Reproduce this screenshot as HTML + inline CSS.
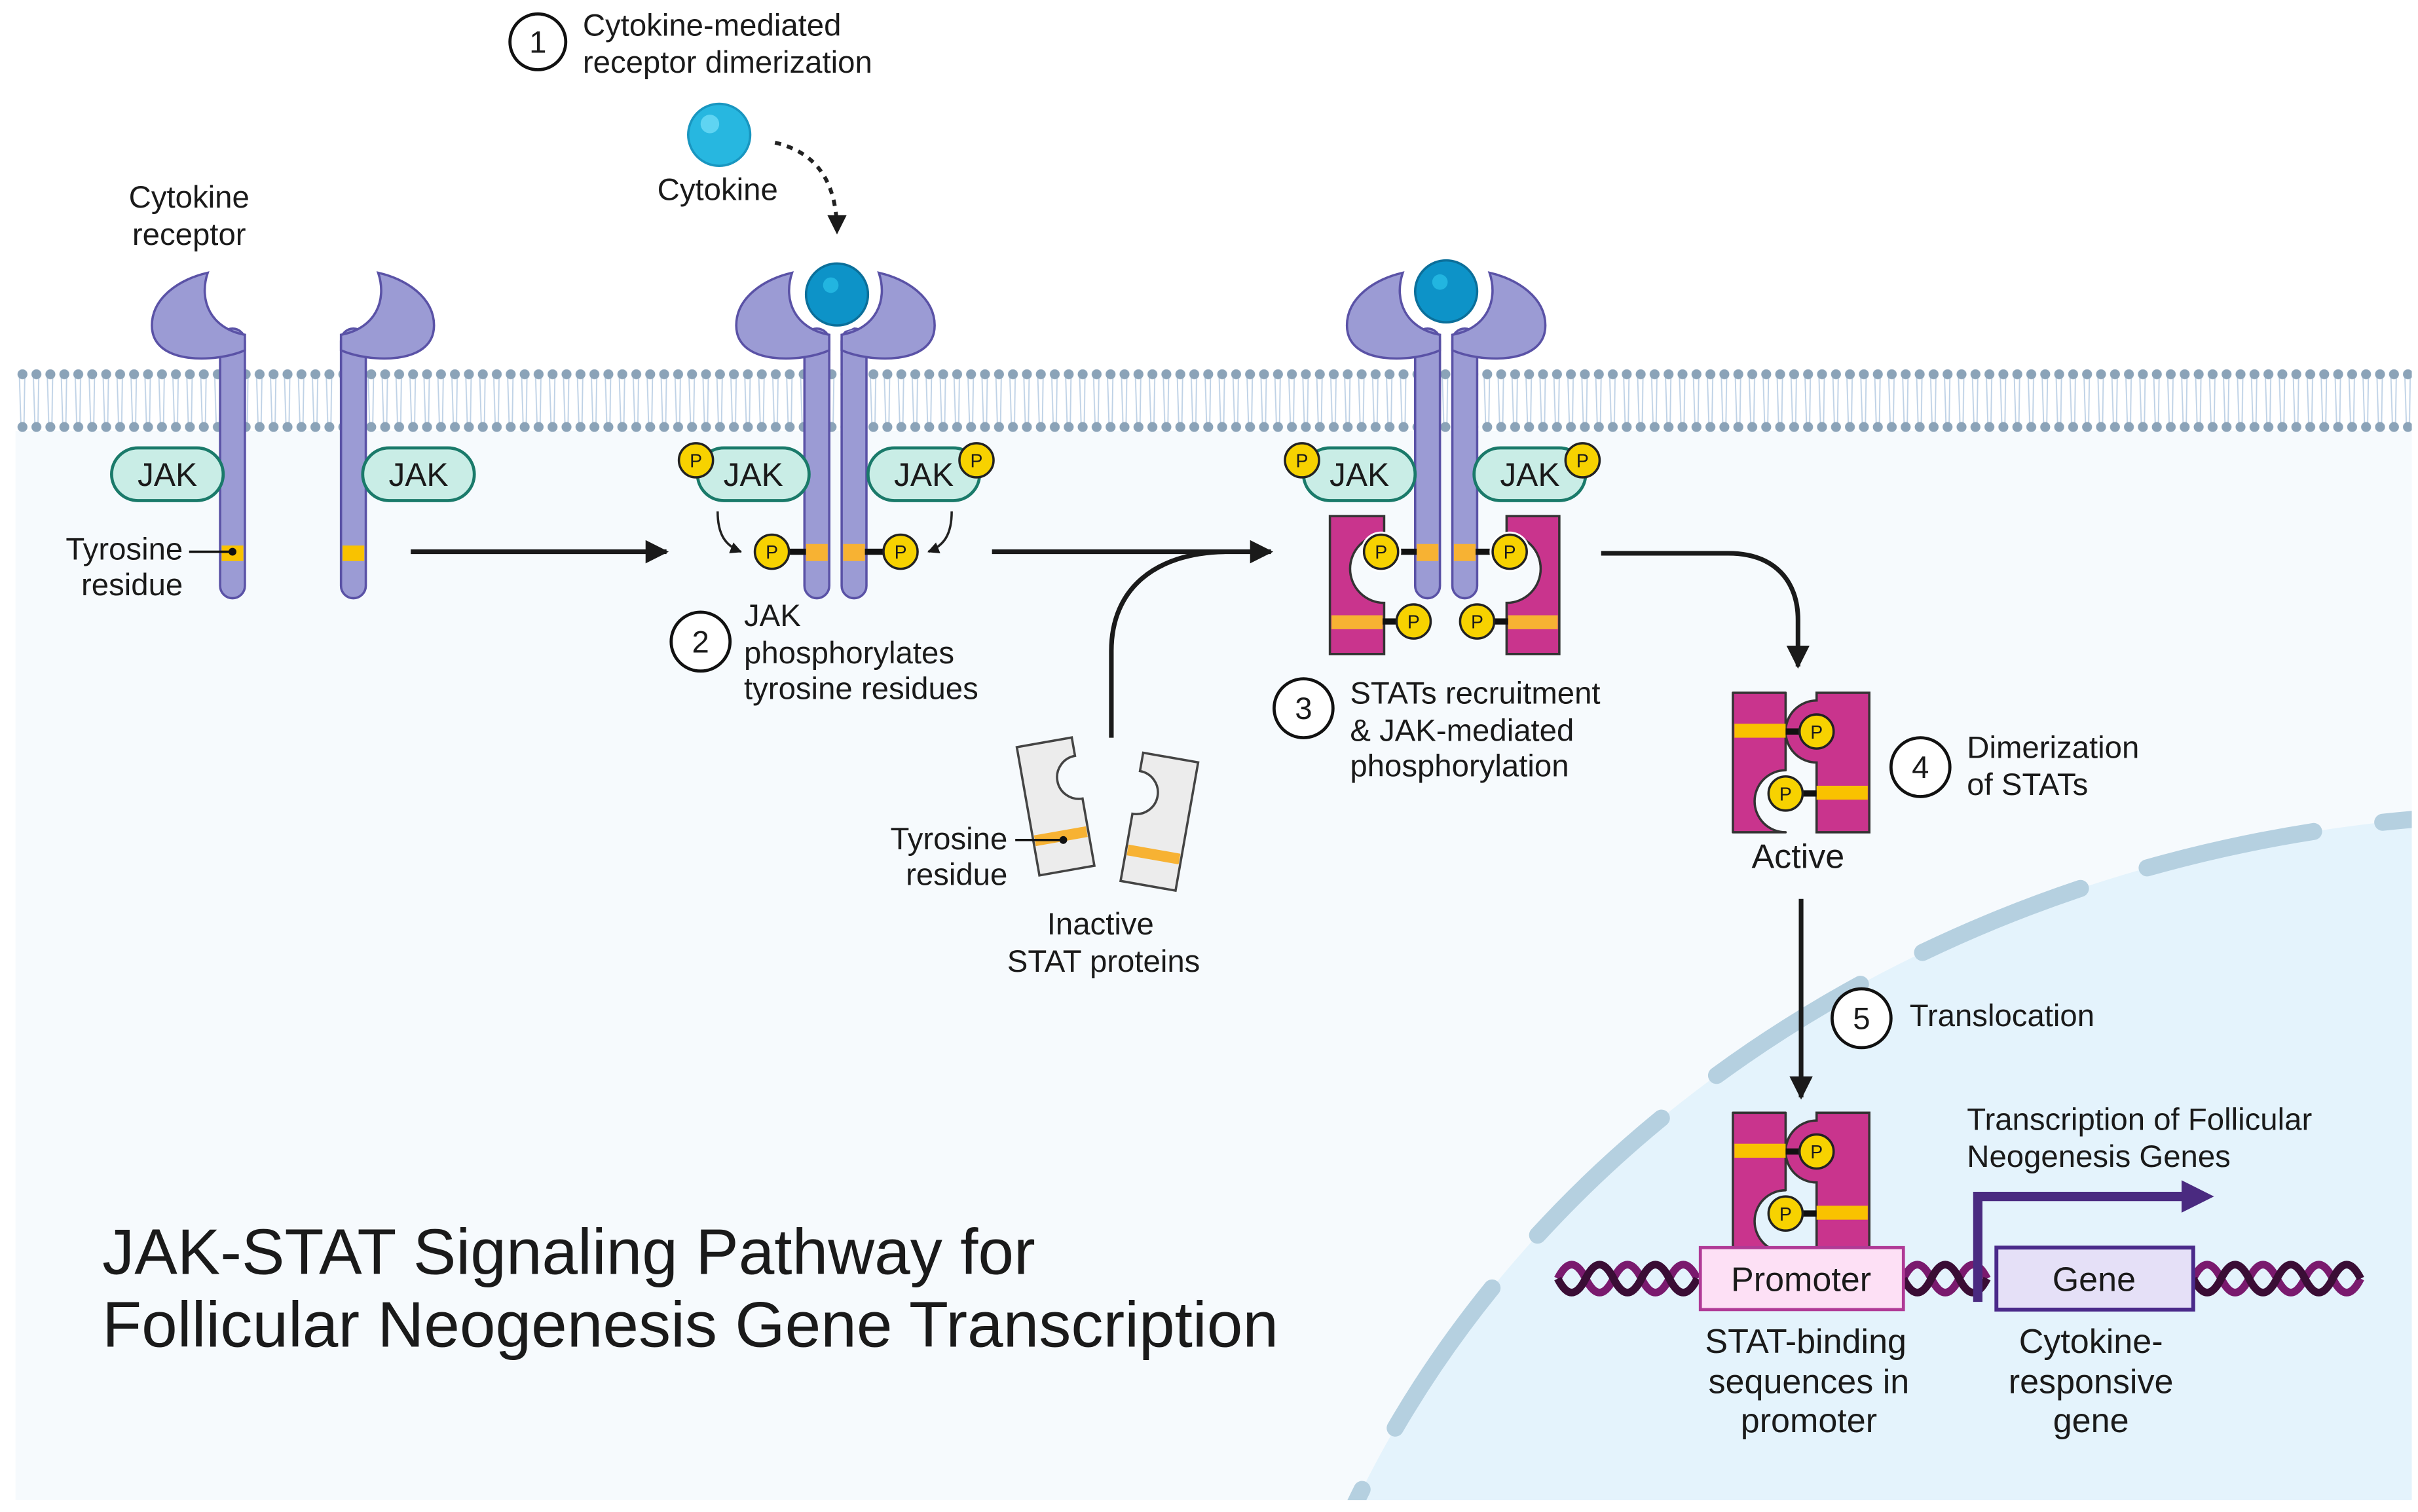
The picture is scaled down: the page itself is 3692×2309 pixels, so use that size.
<!DOCTYPE html>
<html><head><meta charset="utf-8"><style>
html,body{margin:0;padding:0;background:#fff;overflow:hidden;width:3692px;height:2309px}
svg{display:block}
text{font-family:"Liberation Sans",sans-serif;fill:#1a1a1a}
</style></head><body>
<svg width="3692" height="2309" viewBox="0 0 1560 975.6" preserveAspectRatio="none" xmlns="http://www.w3.org/2000/svg">
<defs>
<pattern id="mem" x="10" y="238" width="9" height="42" patternUnits="userSpaceOnUse">
<line x1="2.5" y1="4" x2="3.5" y2="36" stroke="#bfd2e6" stroke-width="0.8"/>
<line x1="6" y1="4" x2="5.5" y2="36" stroke="#bfd2e6" stroke-width="0.8"/>
<circle cx="4.5" cy="3.5" r="3.2" fill="#8ba3b8"/>
<circle cx="4.5" cy="37.5" r="3.2" fill="#8ba3b8"/>
</pattern>
<clipPath id="cell"><rect x="10" y="278" width="1546" height="690"/></clipPath>
<g id="recL">
<rect x="-8" y="212" width="16" height="174" rx="8" fill="#9b9bd4" stroke="#5a52a6" stroke-width="1.5"/>
<path d="M8,226 C-10,234 -52,236 -52,210 C-52,192 -34,180 -16,176 C-22,194 -14,212 8,216 Z" fill="#9b9bd4" stroke="#5a52a6" stroke-width="1.5"/>
</g>
<g id="P"><circle r="11" fill="#f7d200" stroke="#222" stroke-width="1.5"/><text y="4.5" text-anchor="middle" font-size="12">P</text></g>
<g id="jak"><rect x="-36" y="-17" width="72" height="34" rx="17" fill="#c9ede6" stroke="#1a7a6a" stroke-width="2"/><text y="7.5" text-anchor="middle" font-size="21">JAK</text></g>
<marker id="ah" viewBox="0 0 10 10" refX="9" refY="5" markerWidth="5" markerHeight="5" orient="auto"><path d="M0,0 L10,5 L0,10 Z" fill="#1a1a1a"/></marker>
<marker id="ahp" viewBox="0 0 10 10" refX="6" refY="5" markerWidth="3.5" markerHeight="3.5" orient="auto"><path d="M0,0 L10,5 L0,10 Z" fill="#4a2a80"/></marker>
<g id="dimer">
<path d="M0,0 h34 v50 a20,20 0 0 0 0,40 h-34 Z" fill="#c9348d" stroke="#333" stroke-width="1.5" stroke-linejoin="round"/>
<path d="M88,0 h-34 v5 a20,20 0 0 0 0,40 v45 h34 Z" fill="#c9348d" stroke="#333" stroke-width="1.5"/>
<rect x="1" y="20" width="33" height="9" fill="#f9c200"/>
<rect x="54" y="60" width="33" height="9" fill="#f9c200"/>
<line x1="34" y1="25" x2="55" y2="25" stroke="#111" stroke-width="4"/>
<line x1="34" y1="65" x2="54" y2="65" stroke="#111" stroke-width="4"/>
<use href="#P" x="54" y="25"/><use href="#P" x="34" y="65"/>
</g>
</defs>
<rect width="1560" height="975.6" fill="#fff"/>
<rect x="10" y="278" width="1546" height="690" fill="#f6fafd"/>
<g clip-path="url(#cell)">
<ellipse cx="1640" cy="1250" rx="830" ry="725" fill="#e4f3fc"/>
<ellipse cx="1640" cy="1250" rx="830" ry="725" fill="none" stroke="#b5d0e0" stroke-width="11" stroke-linecap="round" stroke-dasharray="110 45"/>
</g>
<rect x="10" y="238" width="1546" height="42" fill="url(#mem)"/>
<!-- step 1 -->
<circle cx="347" cy="27" r="18" fill="#fff" stroke="#111" stroke-width="2"/><text x="347" y="34" text-anchor="middle" font-size="20">1</text>
<text x="376" y="23" font-size="20">Cytokine-mediated</text>
<text x="376" y="47" font-size="20">receptor dimerization</text>
<circle cx="464" cy="87" r="20" fill="#27b7e0" stroke="#1996c0" stroke-width="1.5"/>
<circle cx="458" cy="80" r="6" fill="#5fd4f2"/>
<text x="463" y="129" text-anchor="middle" font-size="20">Cytokine</text>
<path d="M500,92 C525,98 540,115 540,150" fill="none" stroke="#222" stroke-width="2.5" stroke-dasharray="4 4" marker-end="url(#ah)"/>
<text x="122" y="134" text-anchor="middle" font-size="20">Cytokine</text>
<text x="122" y="158" text-anchor="middle" font-size="20">receptor</text>
<use href="#recL" x="150" y="0"/>
<use href="#recL" transform="translate(228,0) scale(-1,1)"/>
<rect x="143" y="352" width="14" height="10" fill="#f9c200"/>
<rect x="221" y="352" width="14" height="10" fill="#f9c200"/>
<line x1="122" y1="356" x2="150" y2="356" stroke="#111" stroke-width="1.5"/><circle cx="150" cy="356" r="2.5" fill="#111"/>
<text x="118" y="361" text-anchor="end" font-size="20">Tyrosine</text>
<text x="118" y="384" text-anchor="end" font-size="20">residue</text>
<use href="#jak" x="108" y="306"/><use href="#jak" x="270" y="306"/>
<line x1="265" y1="356" x2="430" y2="356" stroke="#1a1a1a" stroke-width="3" marker-end="url(#ah)"/>
<!-- stage 2 -->
<use href="#recL" x="527" y="0"/>
<use href="#recL" transform="translate(551,0) scale(-1,1)"/>
<circle cx="540" cy="190" r="24" fill="#fff"/>
<circle cx="540" cy="190" r="20" fill="#0d93c8" stroke="#0b6f9a" stroke-width="1.5"/>
<circle cx="536" cy="184" r="5" fill="#22b5e0"/>
<rect x="520" y="351" width="14" height="11" fill="#f7b233"/><rect x="544" y="351" width="14" height="11" fill="#f7b233"/>
<line x1="498" y1="356" x2="520" y2="356" stroke="#111" stroke-width="4"/><line x1="558" y1="356" x2="581" y2="356" stroke="#111" stroke-width="4"/>
<use href="#jak" x="486" y="306"/><use href="#jak" x="596" y="306"/>
<use href="#P" x="449" y="297"/><use href="#P" x="630" y="297"/>
<use href="#P" x="498" y="356"/><use href="#P" x="581" y="356"/>
<path d="M463,330 C463,345 468,352 478,356" fill="none" stroke="#222" stroke-width="1.5" marker-end="url(#ah)"/>
<path d="M614,330 C614,345 609,352 599,356" fill="none" stroke="#222" stroke-width="1.5" marker-end="url(#ah)"/>
<circle cx="452" cy="414" r="19" fill="#fff" stroke="#111" stroke-width="2"/><text x="452" y="421" text-anchor="middle" font-size="20">2</text>
<text x="480" y="404" font-size="20">JAK</text>
<text x="480" y="428" font-size="20">phosphorylates</text>
<text x="480" y="451" font-size="20">tyrosine residues</text>
<line x1="640" y1="356" x2="820" y2="356" stroke="#1a1a1a" stroke-width="3" marker-end="url(#ah)"/>
<path d="M717,476 L717,420 C717,380 745,357 790,356" fill="none" stroke="#1a1a1a" stroke-width="3"/>
<g transform="rotate(-10 683 520)">
<path d="M663,478 h36 v12 a14,14 0 0 0 0,28 v44 h-36 Z" fill="#ececec" stroke="#444" stroke-width="1.5"/>
<rect x="664" y="536" width="34" height="7" fill="#f7b233"/>
</g>
<g transform="rotate(10 747 530)">
<path d="M766,488 h-36 v12 a14,14 0 0 1 0,28 v44 h36 Z" fill="#ececec" stroke="#444" stroke-width="1.5"/>
<rect x="731" y="548" width="34" height="7" fill="#f7b233"/>
</g>
<line x1="655" y1="542" x2="686" y2="542" stroke="#111" stroke-width="1.5"/><circle cx="686" cy="542" r="2.5" fill="#111"/>
<text x="650" y="548" text-anchor="end" font-size="20">Tyrosine</text>
<text x="650" y="571" text-anchor="end" font-size="20">residue</text>
<text x="710" y="603" text-anchor="middle" font-size="20">Inactive</text>
<text x="712" y="627" text-anchor="middle" font-size="20">STAT proteins</text>
<!-- stage 3 -->
<path d="M858,333 h35 v12 a22,22 0 0 0 0,44 v33 h-35 Z" fill="#c9348d" stroke="#333" stroke-width="1.5"/>
<path d="M1006,333 h-34 v12 a22,22 0 0 1 0,44 v33 h34 Z" fill="#c9348d" stroke="#333" stroke-width="1.5"/>
<rect x="859" y="397" width="33" height="9" fill="#f7b233"/><rect x="973" y="397" width="32" height="9" fill="#f7b233"/>
<use href="#recL" x="921" y="0"/>
<use href="#recL" transform="translate(945,0) scale(-1,1)"/>
<circle cx="933" cy="188" r="24" fill="#fff"/>
<circle cx="933" cy="188" r="20" fill="#0d93c8" stroke="#0b6f9a" stroke-width="1.5"/>
<circle cx="929" cy="182" r="5" fill="#22b5e0"/>
<rect x="914" y="351" width="14" height="11" fill="#f7b233"/><rect x="938" y="351" width="14" height="11" fill="#f7b233"/>
<line x1="891" y1="356" x2="914" y2="356" stroke="#111" stroke-width="4"/><line x1="952" y1="356" x2="974" y2="356" stroke="#111" stroke-width="4"/>
<line x1="892" y1="401" x2="912" y2="401" stroke="#111" stroke-width="4"/><line x1="953" y1="401" x2="973" y2="401" stroke="#111" stroke-width="4"/>
<circle cx="891" cy="356" r="13" fill="#fff"/><circle cx="974" cy="356" r="13" fill="#fff"/>
<use href="#P" x="891" y="356"/><use href="#P" x="974" y="356"/>
<use href="#P" x="912" y="401"/><use href="#P" x="953" y="401"/>
<use href="#jak" x="877" y="306"/><use href="#jak" x="987" y="306"/>
<use href="#P" x="840" y="297"/><use href="#P" x="1021" y="297"/>
<circle cx="841" cy="457" r="19" fill="#fff" stroke="#111" stroke-width="2"/><text x="841" y="464" text-anchor="middle" font-size="20">3</text>
<text x="871" y="454" font-size="20">STATs recruitment</text>
<text x="871" y="478" font-size="20">&amp; JAK-mediated</text>
<text x="871" y="501" font-size="20">phosphorylation</text>
<path d="M1033,357 L1115,357 C1145,357 1160,375 1160,400 L1160,430" fill="none" stroke="#1a1a1a" stroke-width="3" marker-end="url(#ah)"/>
<use href="#dimer" x="1118" y="447"/>
<text x="1160" y="560" text-anchor="middle" font-size="22">Active</text>
<circle cx="1239" cy="495" r="19" fill="#fff" stroke="#111" stroke-width="2"/><text x="1239" y="502" text-anchor="middle" font-size="20">4</text>
<text x="1269" y="489" font-size="20">Dimerization</text>
<text x="1269" y="513" font-size="20">of STATs</text>
<line x1="1162" y1="580" x2="1162" y2="708" stroke="#1a1a1a" stroke-width="3" marker-end="url(#ah)"/>
<circle cx="1201" cy="657" r="19" fill="#fff" stroke="#111" stroke-width="2"/><text x="1201" y="664" text-anchor="middle" font-size="20">5</text>
<text x="1232" y="662" font-size="20">Translocation</text>
<g fill="none" stroke-width="5">
<path d="M1005,825 q9,-18 18,0 t18,0 t18,0 t18,0 t18,0 M1228,825 q9,-18 18,0 t18,0 t18,0 M1415,825 q9,-18 18,0 t18,0 t18,0 t18,0 t18,0 t18,0" stroke="#7a1a6e"/>
<path d="M1005,825 q9,18 18,0 t18,0 t18,0 t18,0 t18,0 M1228,825 q9,18 18,0 t18,0 t18,0 M1415,825 q9,18 18,0 t18,0 t18,0 t18,0 t18,0 t18,0" stroke="#3a0d35"/>
</g>
<use href="#dimer" x="1118" y="718"/>
<rect x="1097" y="805" width="131" height="40" fill="#fde0f5" stroke="#b03a96" stroke-width="2"/>
<text x="1162" y="833" text-anchor="middle" font-size="22">Promoter</text>
<rect x="1288" y="805" width="127" height="40" fill="#e5e0f7" stroke="#4a2a8a" stroke-width="2.5"/>
<text x="1351" y="833" text-anchor="middle" font-size="22">Gene</text>
<path d="M1276,840 L1276,772 L1420,772" fill="none" stroke="#4a2a80" stroke-width="6" marker-end="url(#ahp)"/>
<text x="1269" y="729" font-size="20">Transcription of Follicular</text>
<text x="1269" y="753" font-size="20">Neogenesis Genes</text>
<text x="1165" y="873" text-anchor="middle" font-size="22">STAT-binding</text>
<text x="1167" y="899" text-anchor="middle" font-size="22">sequences in</text>
<text x="1167" y="924" text-anchor="middle" font-size="22">promoter</text>
<text x="1349" y="873" text-anchor="middle" font-size="22">Cytokine-</text>
<text x="1349" y="899" text-anchor="middle" font-size="22">responsive</text>
<text x="1349" y="924" text-anchor="middle" font-size="22">gene</text>
<text x="66" y="822" font-size="41.5">JAK-STAT Signaling Pathway for</text>
<text x="66" y="869" font-size="41.5">Follicular Neogenesis Gene Transcription</text>
</svg>
</body></html>
